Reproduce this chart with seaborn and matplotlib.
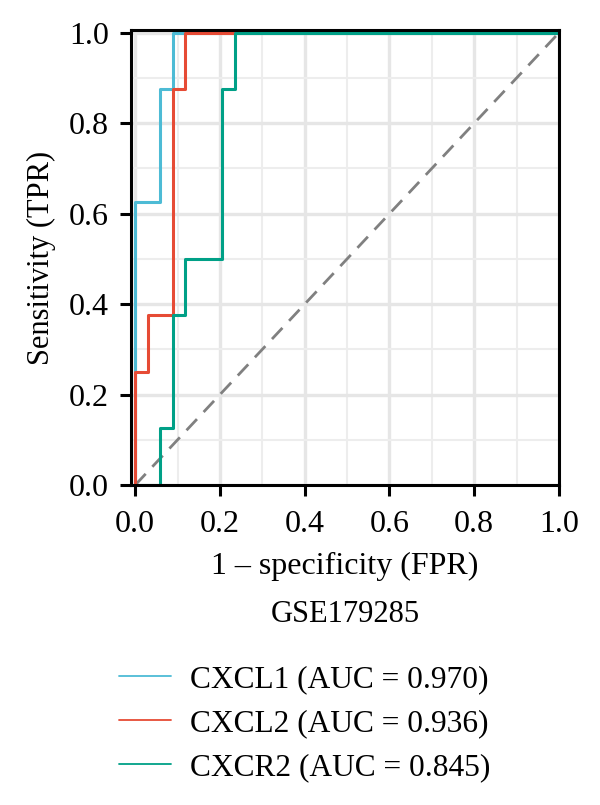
import matplotlib
matplotlib.use("Agg")
import matplotlib.pyplot as plt
import seaborn as sns
import pandas as pd
from matplotlib.ticker import MultipleLocator
from matplotlib.lines import Line2D

# ---- data ----
genes = ["CXCL1", "CXCL2", "CXCR2"]
auc_values = [0.970, 0.936, 0.845]
colors = ["#4DBBD5", "#E64B35", "#00A087"]

cxcl1_fpr = [0.0, 0.0, 0.0588, 0.0588, 0.0882, 0.0882, 1.0]
cxcl1_tpr = [0.0, 0.625, 0.625, 0.875, 0.875, 1.0, 1.0]

cxcl2_fpr = [0.0, 0.0, 0.0294, 0.0294, 0.0882, 0.0882, 0.1176, 0.1176, 1.0]
cxcl2_tpr = [0.0, 0.25, 0.25, 0.375, 0.375, 0.875, 0.875, 1.0, 1.0]

cxcr2_fpr = [0.0, 0.0588, 0.0588, 0.0882, 0.0882, 0.1176, 0.1176, 0.2059, 0.2059, 0.2353, 0.2353, 1.0]
cxcr2_tpr = [0.0, 0.0, 0.125, 0.125, 0.375, 0.375, 0.5, 0.5, 0.875, 0.875, 1.0, 1.0]

tick_values = [0.0, 0.2, 0.4, 0.6, 0.8, 1.0]
tick_labels = ["0.0", "0.2", "0.4", "0.6", "0.8", "1.0"]
dataset_name = "GSE179285"

# ---- build long table ----
rows = []
for g, fx, ty in zip(genes, [cxcl1_fpr, cxcl2_fpr, cxcr2_fpr], [cxcl1_tpr, cxcl2_tpr, cxcr2_tpr]):
    for i, (a, b) in enumerate(zip(fx, ty)):
        rows.append({"gene": g, "fpr": a, "tpr": b, "idx": i})
df = pd.DataFrame(rows)

sns.set_theme(style="white")
plt.rcParams["font.family"] = ["Liberation Serif", "DejaVu Serif"]
plt.rcParams["text.color"] = "black"
FS_TICK = 23
FS_XLAB = 23
FS_YLAB = 22
FS_LEG = 22.6

fig = plt.figure(figsize=(6.0, 8.05), dpi=100)
ax = fig.add_axes([131 / 600, 1 - 485 / 805, 428 / 600, 455 / 805])

# grid
ax.xaxis.set_major_locator(MultipleLocator(0.2))
ax.yaxis.set_major_locator(MultipleLocator(0.2))
ax.xaxis.set_minor_locator(MultipleLocator(0.1))
ax.yaxis.set_minor_locator(MultipleLocator(0.1))
ax.grid(which="major", color="#E6E6E6", linewidth=2.4, zorder=0)
ax.grid(which="minor", color="#EDEDED", linewidth=1.5, zorder=0)
ax.set_axisbelow(True)

# diagonal
ax.plot([0, 1], [0, 1], color="#808080", linestyle=(0, (5.5, 3.5)), linewidth=2.0, zorder=1)

sns.lineplot(data=df, x="fpr", y="tpr", hue="gene", hue_order=genes, palette=colors,
             estimator=None, sort=False, linewidth=2.2, legend=False, ax=ax, zorder=2)

ax.set_xlim(-0.01, 1.0)
ax.set_ylim(0.0, 1.006)
ax.set_xticks(tick_values)
ax.set_xticklabels(tick_labels)
ax.set_yticks(tick_values)
ax.set_yticklabels(tick_labels)

for s in ax.spines.values():
    s.set_visible(True)
    s.set_color("black")
    s.set_linewidth(2.2)

ax.tick_params(axis="both", which="major", direction="out", length=8, width=2.2,
               color="black", labelsize=FS_TICK, labelcolor="black", bottom=True, left=True)
ax.tick_params(axis="x", which="major", pad=10)
ax.tick_params(axis="y", which="major", pad=8)
ax.tick_params(axis="both", which="minor", length=0)

ax.set_xlabel("1 – specificity (FPR)", fontsize=FS_XLAB, color="black", labelpad=9)
ax.set_ylabel("Sensitivity (TPR)", fontsize=FS_YLAB, color="black", labelpad=9)

fig.text((131 + 559) / 2 / 600, 1 - 614 / 805, dataset_name, fontsize=FS_YLAB,
         ha="center", va="center", color="black")

handles = [Line2D([0], [0], color=c, linewidth=1.3) for c in colors]
labels = [f"{g} (AUC = {a:.3f})" for g, a in zip(genes, auc_values)]
leg = fig.legend(handles, labels, loc="upper left", bbox_to_anchor=(119 / 600, 1 - 665 / 805),
                 frameon=False, fontsize=FS_LEG, handlelength=1.66, handletextpad=0.6,
                 labelspacing=0.48, borderaxespad=0, borderpad=0)
for t in leg.get_texts():
    t.set_color("black")

fig.savefig("out.png", dpi=100)
